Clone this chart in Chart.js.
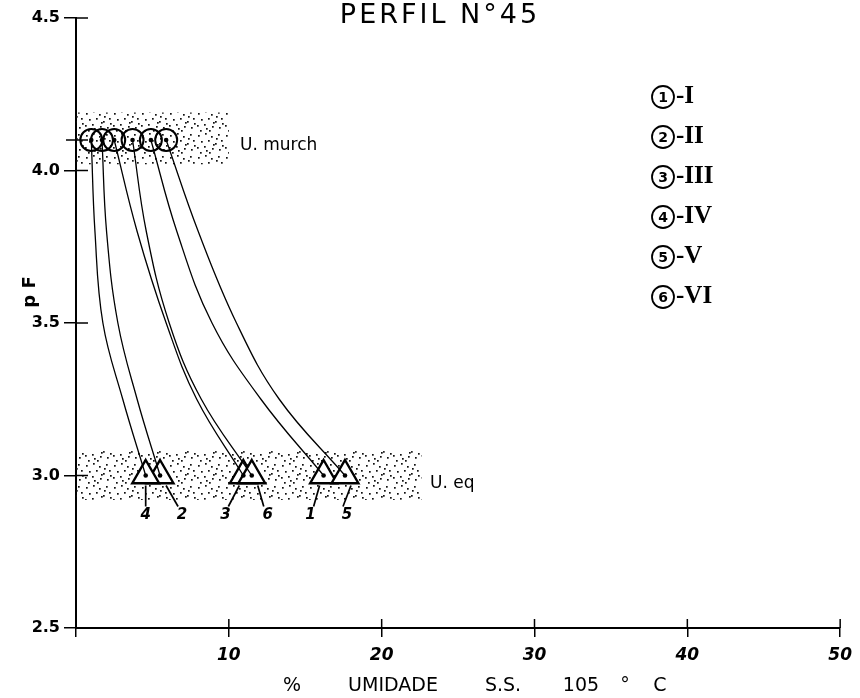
<!DOCTYPE html>
<html>
<head>
<meta charset="utf-8">
<script src="https://cdn.jsdelivr.net/npm/chart.js@4/dist/chart.umd.min.js"></script>
<style>
 html,body{margin:0;padding:0;background:#fff;}
 #wrap{width:860px;height:698px;}
</style>
</head>
<body>
<div id="wrap"><canvas id="chart" width="860" height="698"></canvas></div>
<script>
// pF levels (top = U. murch, bottom = U. eq)
const pfLevels=[4.1,3.8,3.5,3.25,3.0];
// % umidade for each horizon at those pF levels
const serieI  =[4.9,6.6,8.9,12.1,16.2];
const serieII =[1.7,2.0,2.74,4.0,5.5];
const serieIII=[2.5,4.0,5.9,7.9,10.95];
const serieIV =[1.0,1.24,1.76,3.06,4.56];
const serieV  =[5.9,8.0,10.5,13.3,17.6];
const serieVI =[3.7,4.6,6.1,8.2,11.5];
const series=[serieI,serieII,serieIII,serieIV,serieV,serieVI];
const serieNums=["1","2","3","4","5","6"];
const serieNames=["I","II","III","IV","V","VI"];
// shaded bands [xmin,xmax,ymin,ymax]
const bandMurch=[0,10,4.02,4.19];
const bandEq=[0,22.6,2.92,3.08];
const xTicks=[10,20,30,40,50];
const yTickLabels={"2.5":"2.5","3":"3.0","3.5":"3.5","4":"4.0","4.5":"4.5"};
const xTitleParts=[["%",292],["UMIDADE",393],["S.S.",503],["105",581],["°",625],["C",660]];

const ctx=document.getElementById("chart").getContext("2d");

// stipple texture for the bands
function stipple(){
 const c=document.createElement("canvas");c.width=28;c.height=22;
 const g=c.getContext("2d");g.fillStyle="#111";
 const d=[[2,3],[9,1],[15,4],[22,2],[5,9],[12,8],[19,11],[25,8],[1,15],[8,14],[16,16],[23,17],[4,20],[13,20],[20,6],[10,18],[26,13],[17,12]];
 d.forEach(p=>g.fillRect(p[0],p[1],1.7,1.7));
 return ctx.createPattern(c,"repeat");
}
const pat=stipple();

const blk="#000";
const lineSets=series.map(s=>({type:"scatter",showLine:true,data:s.map((v,k)=>({x:v,y:pfLevels[k]})),
 borderColor:blk,borderWidth:1.3,pointRadius:0,tension:0.4,order:2}));
const circles={type:"scatter",data:series.map(s=>({x:s[0],y:pfLevels[0]})),pointStyle:"circle",pointRadius:11,
 backgroundColor:"rgba(0,0,0,0)",borderColor:blk,borderWidth:2,order:1};
const tris={type:"scatter",data:series.map(s=>({x:s[s.length-1],y:pfLevels[pfLevels.length-1]})),pointStyle:"triangle",pointRadius:15.5,
 backgroundColor:"#fff",borderColor:blk,borderWidth:2.4,order:3};
const dots={type:"scatter",data:[...circles.data,...tris.data],pointRadius:2.3,backgroundColor:blk,borderWidth:0,order:0};

const deco={
 id:"deco",
 beforeDatasetsDraw(ch){
  const c=ch.ctx,x=ch.scales.x,y=ch.scales.y;
  c.save();c.fillStyle=pat;
  [bandMurch,bandEq].forEach(b=>{
   const x0=x.getPixelForValue(b[0]),x1=x.getPixelForValue(b[1]);
   const y0=y.getPixelForValue(b[3]),y1=y.getPixelForValue(b[2]);
   c.fillRect(x0,y0,x1-x0,y1-y0);
  });
  c.restore();
 },
 afterDraw(ch){
  const c=ch.ctx,x=ch.scales.x,y=ch.scales.y,a=ch.chartArea;
  c.save();c.strokeStyle=blk;c.fillStyle=blk;c.lineWidth=1.5;
  // inner half of ticks
  xTicks.forEach(t=>{const p=x.getPixelForValue(t);c.beginPath();c.moveTo(p,a.bottom);c.lineTo(p,a.bottom-9);c.stroke();});
  [2.5,3,3.5,4,4.5,pfLevels[0]].forEach(t=>{const p=y.getPixelForValue(t);c.beginPath();c.moveTo(a.left-(t===pfLevels[0]?10:0),p);c.lineTo(a.left+12,p);c.stroke();});
  // title
  c.font='27px "DejaVu Sans"';c.letterSpacing="3px";c.textAlign="center";c.textBaseline="middle";
  c.fillText("PERFIL N°45",440,16);
  c.letterSpacing="0px";
  // band labels
  c.font='17px "DejaVu Sans"';c.textAlign="left";
  c.fillText("U. murch",240,y.getPixelForValue((bandMurch[2]+bandMurch[3])/2)+7);
  c.fillText("U. eq",430,y.getPixelForValue((bandEq[2]+bandEq[3])/2)+8);
  // numbers under triangles with leader lines
  const dx=[-13,22,-18,0,2,16];
  c.font='bold italic 15px "DejaVu Sans"';c.textAlign="center";c.lineWidth=1.7;
  series.forEach((s,i)=>{
   const px=x.getPixelForValue(s[s.length-1]),py=y.getPixelForValue(pfLevels[pfLevels.length-1]);
   const lx=px+dx[i],ly=py+40;
   c.beginPath();c.moveTo(lx+(dx[i]>0?-4:dx[i]<0?3:0),ly-9);c.lineTo(px+(dx[i]>0?6:dx[i]<0?-4:0),py+10);c.stroke();
   c.fillText(serieNums[i],lx,ly);
  });
  // legend
  serieNums.forEach((n,i)=>{
   const cy=97+i*40,cx=663;
   c.lineWidth=1.8;c.beginPath();c.arc(cx,cy,11,0,Math.PI*2);c.stroke();
   c.font='bold 14px "DejaVu Sans"';c.textAlign="center";c.fillText(n,cx,cy+1);
   c.font='bold 25px "Liberation Serif"';c.textAlign="left";c.fillText("-"+serieNames[i],cx+13,cy);
  });
  // axis titles
  c.font='bold 18px "DejaVu Sans"';c.textAlign="center";
  c.save();c.translate(30,292);c.rotate(-Math.PI/2);c.fillText("p F",0,0);c.restore();
  c.font='19px "DejaVu Sans"';
  xTitleParts.forEach(p=>c.fillText(p[0],p[1],686));
  c.restore();
 }
};

new Chart(ctx,{
 data:{datasets:[dots,circles,...lineSets,tris]},
 options:{responsive:false,animation:false,
  layout:{padding:{left:0,top:18,right:17,bottom:0}},
  plugins:{legend:{display:false},tooltip:{enabled:false}},
  scales:{
   x:{type:"linear",min:0,max:50,afterFit:s=>{s.height=70;},
    ticks:{stepSize:10,padding:8,color:blk,font:{family:"DejaVu Sans",size:17,weight:"bold",style:"italic"},callback:v=>v===0?"":v},
    grid:{drawOnChartArea:false,color:blk,lineWidth:1.5,tickLength:9},
    border:{color:blk,width:2}},
   y:{type:"linear",min:2.5,max:4.5,afterFit:s=>{s.width=76;},
    ticks:{stepSize:0.5,padding:4,color:blk,font:{family:"DejaVu Sans",size:16,weight:"bold"},callback:v=>yTickLabels[String(v)]||""},
    grid:{drawOnChartArea:false,color:blk,lineWidth:1.5,tickLength:12},
    border:{color:blk,width:2}}
  }
 },
 plugins:[deco]
});
</script>
</body>
</html>
